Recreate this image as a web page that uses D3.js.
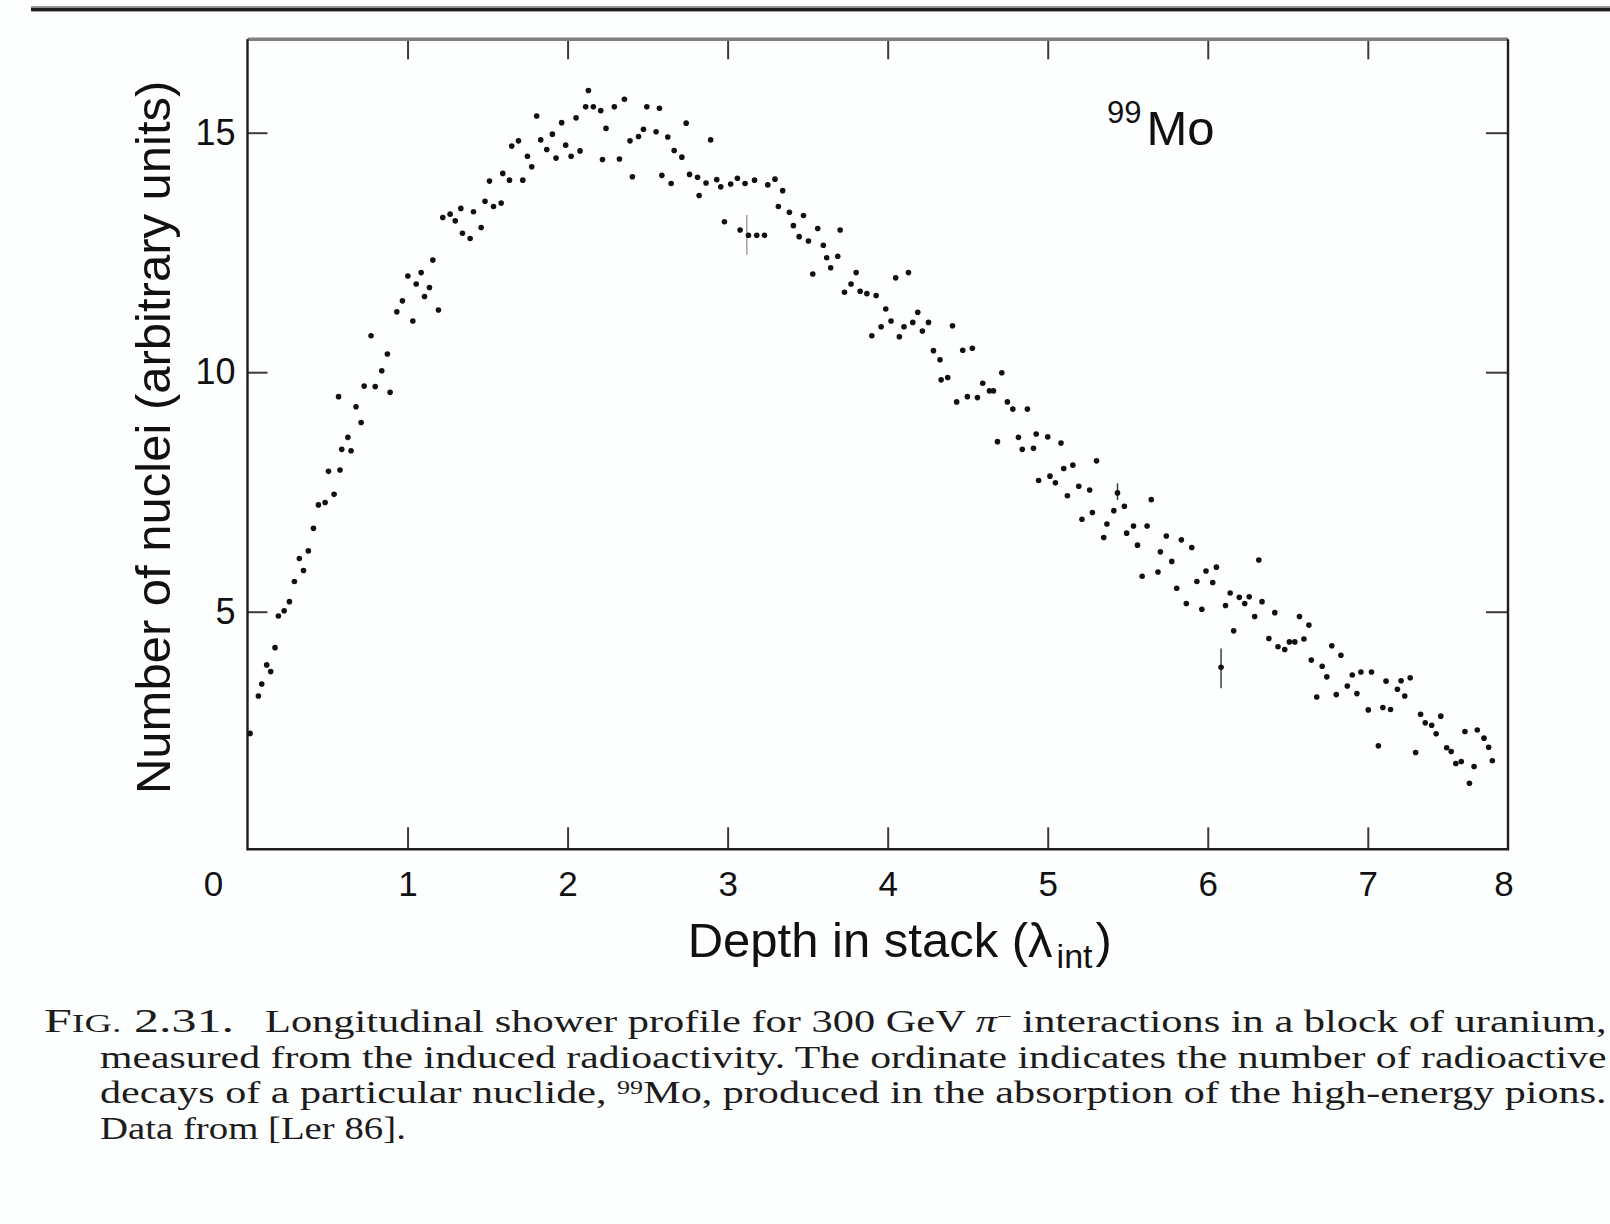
<!DOCTYPE html>
<html>
<head>
<meta charset="UTF-8">
<script src="https://cdn.jsdelivr.net/npm/d3@7/dist/d3.min.js"></script>
<style>
body{ margin:0; background:#fdfefe; }
svg{ display:block; }
.sans{ font-family:"Liberation Sans", Arial, Helvetica, sans-serif; fill:#111; }
.serif{ font-family:"Liberation Serif", "Times New Roman", serif; fill:#1c1c1c; }
.axis path{ display:none; }
.axis line{ stroke:#3a3a3a; stroke-width:2; }
.axis text{ font-family:"Liberation Sans", Arial, Helvetica, sans-serif; fill:#111; }
</style>
</head>
<body>
<script>

// depth in stack (lambda_int) and number of nuclei
var depth = [0.016,0.068,0.089,0.12,0.145,0.172,0.193,0.229,0.262,0.293,0.324,0.35,0.38,0.412,0.443,0.485,0.506,0.541,0.569,0.578,
  0.589,0.627,0.647,0.678,0.71,0.729,0.772,0.798,0.839,0.874,0.891,0.933,0.968,1.002,1.033,1.054,1.085,1.106,1.137,1.158,
  1.193,1.22,1.266,1.298,1.333,1.343,1.391,1.412,1.46,1.484,1.512,1.537,1.585,1.595,1.637,1.651,1.693,1.72,1.749,1.776,
  1.807,1.832,1.87,1.905,1.928,1.963,1.988,2.022,2.053,2.078,2.113,2.13,2.161,2.207,2.218,2.24,2.292,2.324,2.355,2.39,
  2.405,2.443,2.474,2.495,2.553,2.574,2.589,2.626,2.647,2.666,2.714,2.741,2.762,2.812,2.822,2.865,2.894,2.932,2.957,2.98,
  3.019,3.061,3.078,3.109,3.13,3.168,3.182,3.23,3.251,3.296,3.317,3.344,3.386,3.411,3.447,3.474,3.505,3.532,3.563,3.598,
  3.619,3.644,3.688,3.703,3.73,3.771,3.803,3.828,3.87,3.901,3.928,3.959,3.988,4.021,4.05,4.073,4.102,4.13,4.157,4.188,
  4.217,4.255,4.286,4.327,4.334,4.375,4.405,4.431,4.469,4.498,4.529,4.561,4.594,4.636,4.661,4.686,4.713,4.748,4.782,4.817,
  4.841,4.873,4.911,4.928,4.943,5.0,5.014,5.048,5.083,5.1,5.123,5.157,5.194,5.214,5.262,5.279,5.305,5.35,5.37,5.413,
  5.436,5.479,5.493,5.536,5.561,5.59,5.621,5.647,5.689,5.704,5.741,5.775,5.806,5.835,5.866,5.9,5.932,5.963,5.989,6.031,
  6.054,6.083,6.111,6.14,6.162,6.197,6.231,6.259,6.293,6.319,6.339,6.382,6.419,6.439,6.481,6.51,6.544,6.573,6.601,6.632,
  6.647,6.681,6.715,6.744,6.775,6.803,6.832,6.872,6.903,6.932,6.957,7.003,7.023,7.066,7.094,7.114,7.142,7.185,7.208,7.231,
  7.265,7.299,7.33,7.359,7.399,7.427,7.456,7.493,7.521,7.55,7.584,7.607,7.635,7.664,7.684,7.726,7.755,7.778];
var nuclei = [2.46,3.24,3.49,3.89,3.75,4.25,4.91,5.02,5.21,5.63,6.11,5.86,6.27,6.74,7.23,7.28,7.93,7.45,9.49,7.96,
  8.39,8.64,8.36,9.28,8.95,9.71,10.76,9.7,10.03,10.38,9.58,11.26,11.49,12.01,11.07,11.84,12.08,11.58,11.77,12.34,
  11.3,13.23,13.3,13.16,13.42,12.9,12.79,13.35,13.02,13.57,13.99,13.46,13.53,14.15,14.01,14.72,14.83,14.01,14.51,14.29,
  15.35,14.85,14.65,14.97,14.47,15.21,14.74,14.51,15.31,14.62,15.54,15.88,15.54,15.46,14.44,15.09,15.54,14.45,15.7,14.83,
  14.08,14.92,15.07,15.54,15.02,15.51,14.11,14.91,13.94,14.63,14.49,15.2,14.13,14.07,13.69,13.95,14.85,14.02,13.87,13.14,
  13.93,14.05,12.97,13.94,12.86,14.01,12.86,12.86,13.91,14.03,13.46,13.79,13.34,13.06,12.83,13.27,12.74,12.05,13.0,12.65,
  12.39,12.18,12.42,12.97,11.67,11.84,12.08,11.69,11.64,10.76,11.6,10.95,11.32,11.07,11.97,10.74,10.95,12.08,11.04,11.25,
  10.86,11.04,10.45,10.26,9.84,9.89,10.97,9.38,10.46,9.49,10.5,9.47,9.77,9.61,9.61,8.55,9.99,9.38,9.23,8.64,
  8.39,9.23,8.41,8.71,7.74,8.65,7.83,7.69,8.52,7.99,7.42,8.06,7.62,6.93,7.54,7.07,8.15,6.55,6.83,7.11,
  7.48,7.2,6.64,6.79,6.39,5.74,6.79,7.34,5.83,6.25,6.58,6.05,5.49,6.5,5.17,6.34,5.63,5.05,5.85,5.61,
  5.93,3.84,5.13,5.39,4.6,5.3,5.17,5.31,4.9,6.08,5.21,4.44,4.98,4.27,4.21,4.37,4.37,4.9,4.43,4.72,
  3.99,3.22,3.86,3.64,4.29,3.27,4.09,3.45,3.68,3.29,3.74,2.95,3.74,2.2,3.0,3.55,2.96,3.38,3.56,3.24,
  3.62,2.06,2.86,2.68,2.63,2.45,2.82,2.16,2.08,1.83,1.87,2.5,1.42,1.77,2.53,2.36,2.17,1.89];

// the few points that carry a visible error bar
var errDepth = [3.12, 5.436, 6.083];
var errLow = [12.45, 7.33, 3.40];
var errHigh = [13.28, 7.68, 4.23];

var xTicks = [1,2,3,4,5,6,7];
var yTicks = [5,10,15];
var xFirstLabel = "0", xLastLabel = "8";

var captionHead = [["F",""],["IG.","sc"],[" 2.31.",""]];
var captionLines = [
  [["Longitudinal shower profile for 300 GeV ",""],["π","it"],["−","sup"],[" interactions in a block of uranium,",""]],
  [["measured from the induced radioactivity. The ordinate indicates the number of radioactive",""]],
  [["decays of a particular nuclide, ",""],["99","sup"],["Mo, produced in the absorption of the high-energy pions.",""]],
  [["Data from [Ler 86].",""]]
];

var width = 1610, height = 1224;

var x = d3.scaleLinear().domain([0, 7.876]).range([247.5, 1508]);
var y = d3.scaleLinear().domain([0.04, 16.95]).range([849.3, 39.3]);

var svg = d3.select("body").append("svg")
    .attr("width", width)
    .attr("height", height);

svg.append("rect").attr("width", width).attr("height", height).attr("fill", "#fdfefe");

// heavy rule across the top of the page
svg.append("rect").attr("x", 31).attr("y", 6).attr("width", width - 31).attr("height", 1.8).attr("fill", "#9a9a9a");
svg.append("rect").attr("x", 31).attr("y", 7.8).attr("width", width - 31).attr("height", 3.6).attr("fill", "#1e1e1e");

// ticks, pointing inward
var gBottom = svg.append("g")
    .attr("class", "axis")
    .attr("transform", "translate(0," + y.range()[0] + ")")
    .call(d3.axisBottom(x).tickValues(xTicks).tickSizeInner(-22).tickSizeOuter(0).tickPadding(22));
gBottom.selectAll("text").attr("font-size", 35);

gBottom.append("text")
    .attr("x", x(0) - 34).attr("y", 22).attr("dy", "0.71em")
    .attr("text-anchor", "middle").attr("font-size", 35).attr("fill", "#111")
    .text(xFirstLabel);
gBottom.append("text")
    .attr("x", x.range()[1] - 4).attr("y", 22).attr("dy", "0.71em")
    .attr("text-anchor", "middle").attr("font-size", 35).attr("fill", "#111")
    .text(xLastLabel);

svg.append("g")
    .attr("class", "axis")
    .attr("transform", "translate(0," + y.range()[1] + ")")
    .call(d3.axisTop(x).tickValues(xTicks).tickSizeInner(-20).tickSizeOuter(0).tickFormat(""));

var gLeft = svg.append("g")
    .attr("class", "axis")
    .attr("transform", "translate(" + x.range()[0] + ",0)")
    .call(d3.axisLeft(y).tickValues(yTicks).tickSizeInner(-20).tickSizeOuter(0).tickPadding(12));
gLeft.selectAll("text").attr("font-size", 36);

svg.append("g")
    .attr("class", "axis")
    .attr("transform", "translate(" + x.range()[1] + ",0)")
    .call(d3.axisRight(y).tickValues(yTicks).tickSizeInner(-22).tickSizeOuter(0).tickFormat(""));

// frame
var x0 = x.range()[0], x1 = x.range()[1], yb = y.range()[0], yt = y.range()[1];
svg.append("line").attr("x1", x0).attr("x2", x1).attr("y1", yt).attr("y2", yt)
    .attr("stroke", "#808080").attr("stroke-width", 3.5);
svg.append("path")
    .attr("d", "M" + x0 + "," + yt + "V" + yb + "H" + x1 + "V" + yt)
    .attr("fill", "none").attr("stroke", "#1e1e1e").attr("stroke-width", 2.4);

// error bars
svg.selectAll(".err")
    .data(errDepth)
    .enter().append("line")
    .attr("class", "err")
    .attr("x1", function(d){ return x(d); })
    .attr("x2", function(d){ return x(d); })
    .attr("y1", function(d, i){ return y(errLow[i]); })
    .attr("y2", function(d, i){ return y(errHigh[i]); })
    .attr("stroke", function(d, i){ return i == 0 ? "#9a9a9a" : "#333"; })
    .attr("stroke-width", 1.4);

// data points
svg.selectAll(".pt")
    .data(depth)
    .enter().append("circle")
    .attr("class", "pt")
    .attr("cx", function(d){ return x(d); })
    .attr("cy", function(d, i){ return y(nuclei[i]); })
    .attr("r", 2.8)
    .attr("fill", "#111");

// isotope label
var iso = svg.append("text").attr("class", "sans").attr("x", 1107).attr("y", 145);
iso.append("tspan").attr("font-size", 31).attr("dy", -22).text("99");
iso.append("tspan").attr("font-size", 49).attr("dy", 22).attr("dx", 5).text("Mo");

// axis titles
var xt = svg.append("text").attr("class", "sans")
    .attr("x", (x0 + x1) / 2 + 22).attr("y", 957)
    .attr("text-anchor", "middle").attr("font-size", 49);
xt.append("tspan").text("Depth in stack (λ");
xt.append("tspan").attr("font-size", 34).attr("dy", 11).attr("dx", 4).text("int");
xt.append("tspan").attr("dy", -11).attr("dx", 3).text(")");

svg.append("text").attr("class", "sans")
    .attr("transform", "translate(170," + ((yt + yb) / 2 - 7) + ") rotate(-90)")
    .attr("text-anchor", "middle")
    .attr("font-size", 49)
    .text("Number of nuclei (arbitrary units)");

// caption, squeezed or stretched to the width of the scanned lines
function captionText(parts, left, right, base, size){
    var t = svg.append("text").attr("class", "serif").attr("font-size", size).attr("x", 0).attr("y", 0);
    parts.forEach(function(p){
        var s = t.append("tspan").text(p[0]);
        if (p[1] == "sc") s.attr("font-size", size * 0.76);
        if (p[1] == "it") s.attr("font-style", "italic");
        if (p[1] == "sup") s.attr("font-size", size * 0.62).attr("baseline-shift", "48%");
    });
    var w = t.node().getBBox().width;
    t.attr("transform", "translate(" + left + "," + base + ") scale(" + ((right - left) / w) + ",1)");
}

var lineGap = 35.5;
captionText(captionHead, 44, 234, 1032, 34);
captionText(captionLines[0], 265, 1607, 1032, 32);
captionText(captionLines[1], 100, 1607, 1032 + lineGap, 32);
captionText(captionLines[2], 100, 1607, 1032 + 2 * lineGap, 32);
captionText(captionLines[3], 100, 406, 1032 + 3 * lineGap, 32);

</script>
</body>
</html>
